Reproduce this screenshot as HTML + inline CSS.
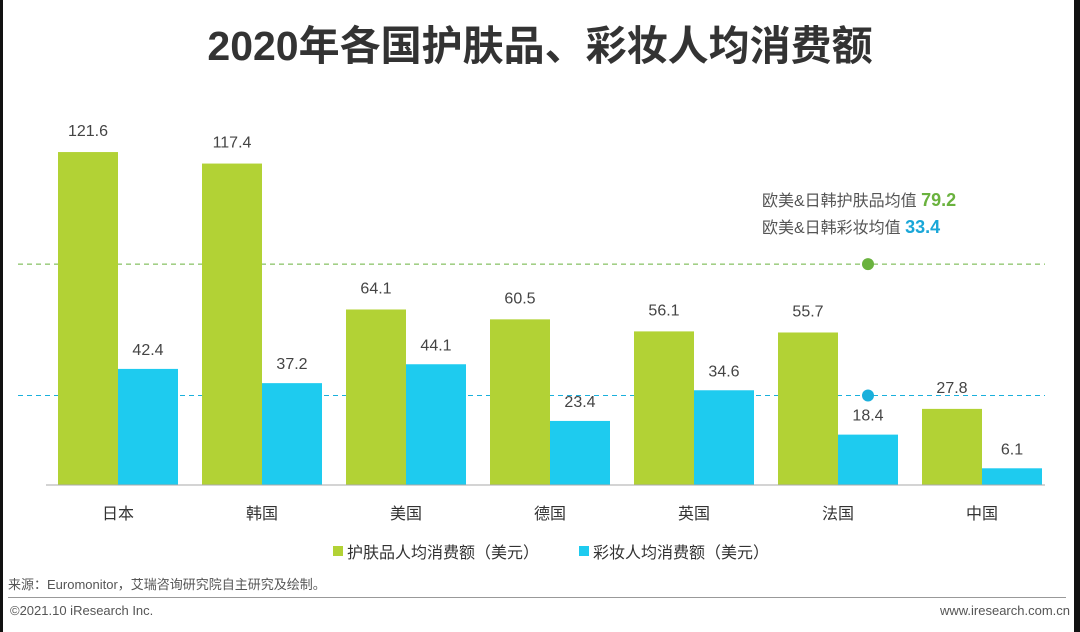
<!DOCTYPE html>
<html><head><meta charset="utf-8"><style>
body{margin:0;width:1080px;height:632px;background:#fff;overflow:hidden;position:relative;font-family:"Liberation Sans","Noto Sans CJK SC",sans-serif}
</style></head><body>
<div style="position:absolute;left:0;top:0;width:3px;height:632px;background:#111"></div>
<div style="position:absolute;right:0;top:0;width:6px;height:632px;background:#111"></div>
<div style="position:absolute;left:0;width:1080px;top:12px;text-align:center;font-size:41px;font-weight:bold;color:#333;font-family:'Liberation Sans','Noto Sans CJK SC',sans-serif">2020年各国护肤品、彩妆人均消费额</div>
<svg id="chart" width="1080" height="632" style="position:absolute;left:0;top:0"></svg>
<div style="position:absolute;left:8px;top:574px;font-size:13px;color:#555">来源：Euromonitor，艾瑞咨询研究院自主研究及绘制。</div>
<div style="position:absolute;left:8px;top:597px;width:1058px;height:1px;background:#999"></div>
<div style="position:absolute;left:10px;top:603px;font-size:13px;color:#555">©2021.10 iResearch Inc.</div>
<div style="position:absolute;right:10px;top:603px;font-size:13px;color:#555">www.iresearch.com.cn</div>
<script>
const categories=["日本","韩国","美国","德国","英国","法国","中国"];
const skincare=[121.6,117.4,64.1,60.5,56.1,55.7,27.8];
const makeup=[42.4,37.2,44.1,23.4,34.6,18.4,6.1];
const avgSkin=79.2, avgMakeup=33.4;
const svg=document.getElementById('chart');
const NS='http://www.w3.org/2000/svg';
const base=485, k=2.738;
const y=v=>base-v*k;
const xc=i=>118+i*144;
function mk(t,a,p){const e=document.createElementNS(NS,t);for(const key in a)e.setAttribute(key,a[key]);(p||svg).appendChild(e);return e;}
[[avgSkin,'#6ab23e',-4],[avgMakeup,'#1ab0dc',2]].forEach(([v,c,o],j)=>{
 const l=mk('line',{x1:18,x2:1045,y1:y(v)+o,y2:y(v)+o,stroke:c,'stroke-dasharray':'5 4','stroke-width':1});
 
 
});
categories.forEach((c,i)=>{
 const g=mk('rect',{x:xc(i)-60,y:y(skincare[i]),width:60,height:skincare[i]*k,fill:'#b2d235'});
 
 
 const b=mk('rect',{x:xc(i),y:y(makeup[i]),width:60,height:makeup[i]*k,fill:'#1ecbef'});
 
 
 const t1=mk('text',{x:xc(i)-30,y:y(skincare[i])-16,'text-anchor':'middle','font-size':16,fill:'#444'});t1.textContent=skincare[i].toFixed(1);
 
 
 const t2=mk('text',{x:xc(i)+30,y:y(makeup[i])-14,'text-anchor':'middle','font-size':16,fill:'#444'});t2.textContent=makeup[i].toFixed(1);
 
 
 const t3=mk('text',{x:xc(i),y:519,'text-anchor':'middle','font-size':16,fill:'#333'});t3.textContent=c;
 
 
});
const ax=mk('line',{x1:46,x2:1045,y1:base,y2:base,stroke:'#aaa','stroke-width':1});


const d1=mk('circle',{cx:868,cy:y(avgSkin)-4,r:6,fill:'#6ab23e'});


const d2=mk('circle',{cx:868,cy:y(avgMakeup)+2,r:6,fill:'#1ab0dc'});


const a1=mk('text',{x:762,y:206,'font-size':16,fill:'#555'});
a1.innerHTML='欧美&amp;日韩护肤品均值 <tspan font-weight="bold" font-size="18" fill="#6ab23e">'+avgSkin+'</tspan>';


const a2=mk('text',{x:762,y:233,'font-size':16,fill:'#555'});
a2.innerHTML='欧美&amp;日韩彩妆均值 <tspan font-weight="bold" font-size="18" fill="#1aa7d8">'+avgMakeup+'</tspan>';


const lg=mk('g',{});


const r1=mk('rect',{x:333,y:546,width:10,height:10,fill:'#b2d235'},lg);


const l1=mk('text',{x:347,y:558,'font-size':16,fill:'#333'},lg);l1.textContent='护肤品人均消费额（美元）';


const r2=mk('rect',{x:579,y:546,width:10,height:10,fill:'#1ecbef'},lg);


const l2=mk('text',{x:593,y:558,'font-size':16,fill:'#333'},lg);l2.textContent='彩妆人均消费额（美元）';


</script>
</body></html>
